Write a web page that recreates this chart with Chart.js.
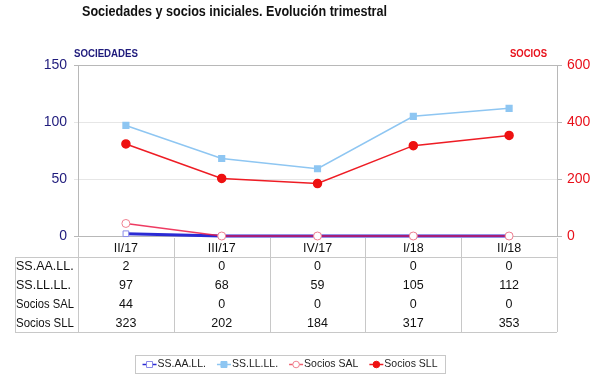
<!DOCTYPE html>
<html>
<head>
<meta charset="utf-8">
<script src="https://cdn.jsdelivr.net/npm/chart.js@4.4.0/dist/chart.umd.min.js"></script>
<style>
  html, body { margin: 0; padding: 0; background: #fff; }
  #wrap { width: 600px; height: 386px; }
</style>
</head>
<body>
<div id="wrap"><canvas id="chart"></canvas></div>
<script>
// --- data ---
const quarters = ["II/17", "III/17", "IV/17", "I/18", "II/18"];
const ssaall = [2, 0, 0, 0, 0];
const ssllll = [97, 68, 59, 105, 112];
const sociosSAL = [44, 0, 0, 0, 0];
const sociosSLL = [323, 202, 184, 317, 353];
const leftTicks = [0, 50, 100, 150];
const rightTicks = [0, 200, 400, 600];

const FONT = "'Liberation Sans', Arial, sans-serif";
const NAVY = "#1f1b7c";
const RED = "#e8101a";
const LINE_GRAY = "#b8b8b8";

// table rows = same order as legend
const tableRows = [
  { label: "SS.AA.LL.", values: ssaall },
  { label: "SS.LL.LL.", values: ssllll },
  { label: "Socios SAL", values: sociosSAL },
  { label: "Socios SLL", values: sociosSLL },
];

// draws title, axis titles, frame, data table and legend box
const extrasPlugin = {
  id: "extras",
  beforeDatasetsDraw(chart) {
    const { ctx, chartArea: a } = chart;
    ctx.save();
    ctx.strokeStyle = LINE_GRAY;
    ctx.lineWidth = 1;
    ctx.strokeRect(Math.round(a.left) + 0.5, Math.round(a.top) + 0.5,
      Math.round(a.right - a.left), Math.round(a.bottom - a.top));
    ctx.restore();
  },
  afterDraw(chart) {
    const { ctx, chartArea: a } = chart;
    const x = chart.scales.x;
    ctx.save();

    // title (narrow, like the original)
    ctx.fillStyle = "#111";
    ctx.font = "bold 14px " + FONT;
    ctx.textBaseline = "middle";
    ctx.textAlign = "left";
    ctx.fillText("Sociedades y socios iniciales. Evolución trimestral", 82, 12, 305);

    // axis titles
    ctx.font = "bold 10.5px " + FONT;
    ctx.fillStyle = NAVY;
    ctx.fillText("SOCIEDADES", 74, 54, 64);
    ctx.fillStyle = RED;
    ctx.textAlign = "right";
    ctx.fillText("SOCIOS", 547, 54, 37);

    // data table
    const step = x.getPixelForValue(1) - x.getPixelForValue(0);
    const top = Math.round(a.bottom);
    const headBottom = top + 21;
    const rowH = 18.75;
    const tableBottom = Math.round(headBottom + rowH * tableRows.length);
    const tableLeft = 15;
    const right = Math.round(a.right);

    ctx.strokeStyle = "#c8c8c8";
    ctx.lineWidth = 1;
    ctx.beginPath();
    for (let i = 0; i <= quarters.length; i++) {
      const bx = Math.round(x.getPixelForValue(0) - step / 2 + i * step) + 0.5;
      ctx.moveTo(bx, top + 2);
      ctx.lineTo(bx, tableBottom);
    }
    ctx.moveTo(tableLeft + 0.5, headBottom);
    ctx.lineTo(tableLeft + 0.5, tableBottom);
    ctx.moveTo(tableLeft, headBottom + 0.5);
    ctx.lineTo(right, headBottom + 0.5);
    ctx.moveTo(tableLeft, tableBottom + 0.5);
    ctx.lineTo(right, tableBottom + 0.5);
    ctx.stroke();

    ctx.fillStyle = "#111";
    ctx.font = "12.5px " + FONT;
    ctx.textBaseline = "middle";
    tableRows.forEach((row, r) => {
      const cy = headBottom + rowH * r + rowH / 2 + 0.5;
      ctx.textAlign = "left";
      ctx.fillText(row.label, tableLeft + 1, cy, 58);
      ctx.textAlign = "center";
      row.values.forEach((v, i) => ctx.fillText(String(v), x.getPixelForValue(i), cy));
    });

    // legend box
    ctx.font = "10.5px " + FONT;
    const segW = 14, gapText = 1, gapItem = 11;
    const items = chart.data.datasets.map((ds) => ({
      ds, w: segW + gapText + ctx.measureText(ds.label).width,
    }));
    const total = items.reduce((s, it) => s + it.w, 0) + gapItem * (items.length - 1);
    const boxL = 135, boxR = 445, boxT = 355, boxB = 373;
    ctx.strokeStyle = "#c8c8c8";
    ctx.strokeRect(boxL + 0.5, boxT + 0.5, boxR - boxL, boxB - boxT);
    let lx = (boxL + boxR) / 2 - total / 2;
    const ly = (boxT + boxB) / 2 + 0.5;
    items.forEach(({ ds, w }) => {
      ctx.strokeStyle = ds.legendLine || ds.borderColor;
      ctx.lineWidth = 1.5;
      ctx.beginPath();
      ctx.moveTo(lx, ly);
      ctx.lineTo(lx + segW, ly);
      ctx.stroke();
      const mx = lx + segW / 2;
      ctx.lineWidth = 1;
      ctx.fillStyle = ds.pointBackgroundColor;
      ctx.strokeStyle = ds.pointBorderColor;
      ctx.beginPath();
      if (ds.pointStyle === "rect") ctx.rect(mx - 3, ly - 3, 6, 6);
      else ctx.arc(mx, ly, 3.3, 0, Math.PI * 2);
      ctx.fill();
      ctx.stroke();
      ctx.fillStyle = "#222";
      ctx.textAlign = "left";
      ctx.fillText(ds.label, lx + segW + gapText, ly);
      lx += w + gapItem;
    });

    ctx.restore();
  },
};

new Chart(document.getElementById("chart"), {
  type: "line",
  data: {
    labels: quarters,
    datasets: [
      {
        label: "SS.AA.LL.",
        data: ssaall,
        yAxisID: "yL",
        borderColor: "#2a2ad4",
        legendLine: "#2a2ad4",
        borderWidth: 3,
        pointStyle: "rect",
        pointRadius: 4,
        pointBackgroundColor: "#ffffff",
        pointBorderColor: "#8a8ae8",
        pointBorderWidth: 1,
        clip: false,
        order: 3,
      },
      {
        label: "SS.LL.LL.",
        data: ssllll,
        yAxisID: "yL",
        borderColor: "#8ec6f2",
        borderWidth: 1.5,
        pointStyle: "rect",
        pointRadius: 4,
        pointBackgroundColor: "#8ec6f2",
        pointBorderColor: "#8ec6f2",
        clip: false,
        order: 2,
      },
      {
        label: "Socios SAL",
        data: sociosSAL,
        yAxisID: "yR",
        borderColor: "rgba(235, 25, 70, 0.85)",
        legendLine: "#f06070",
        borderWidth: 1.5,
        pointStyle: "circle",
        pointRadius: 4,
        pointBackgroundColor: "#ffffff",
        pointBorderColor: "#f08090",
        pointBorderWidth: 1,
        clip: false,
        order: 1,
      },
      {
        label: "Socios SLL",
        data: sociosSLL,
        yAxisID: "yR",
        borderColor: "#ee1c24",
        borderWidth: 1.5,
        pointStyle: "circle",
        pointRadius: 4,
        pointBackgroundColor: "#ee1111",
        pointBorderColor: "#ee1111",
        clip: false,
        order: 0,
      },
    ],
  },
  options: {
    responsive: true,
    maintainAspectRatio: false,
    animation: false,
    layout: { padding: { top: 65, bottom: 129, left: 0, right: 0 } },
    plugins: { legend: { display: false }, title: { display: false }, tooltip: { enabled: false } },
    scales: {
      x: {
        offset: true,
        grid: { display: false, drawTicks: false },
        border: { display: false },
        ticks: { color: "#111", font: { family: FONT, size: 12.5 }, padding: 5, maxRotation: 0 },
        afterFit: (s) => { s.height = 21; },
      },
      yL: {
        position: "left",
        min: 0,
        max: 150,
        afterBuildTicks: (s) => { s.ticks = leftTicks.map((v) => ({ value: v })); },
        afterFit: (s) => { s.width = 78; },
        grid: {
          color: (c) => (c.tick && (c.tick.value === 0 || c.tick.value === 150) ? LINE_GRAY : "#e6e6e6"),
          tickLength: 4,
        },
        border: { color: LINE_GRAY },
        ticks: { color: NAVY, font: { family: FONT, size: 14 }, padding: 7 },
      },
      yR: {
        position: "right",
        min: 0,
        max: 600,
        afterBuildTicks: (s) => { s.ticks = rightTicks.map((v) => ({ value: v })); },
        afterFit: (s) => { s.width = 43; },
        grid: { drawOnChartArea: false, color: LINE_GRAY, tickLength: 5 },
        border: { color: LINE_GRAY },
        ticks: { color: RED, font: { family: FONT, size: 14 }, padding: 5 },
      },
    },
  },
  plugins: [extrasPlugin],
});
</script>
</body>
</html>
